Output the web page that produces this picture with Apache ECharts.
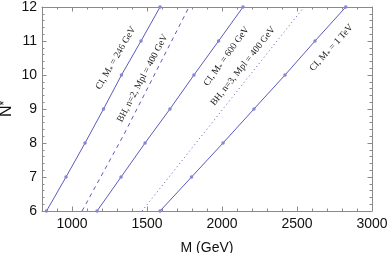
<!DOCTYPE html>
<html><head><meta charset="utf-8">
<script src="https://cdn.jsdelivr.net/npm/echarts@6/dist/echarts.min.js"></script>
<style>html,body{margin:0;padding:0;background:#fff}#c{width:390px;height:253px}</style>
</head><body><div id="c"></div>
<script>
// ---- data ----
const nLevels = [6, 7, 8, 9, 10, 11, 12];
const ci246M  = [830, 960, 1087, 1210, 1330, 1460, 1587];
const ci600M  = [1167, 1327, 1487, 1653, 1813, 1977, 2140];
const ci1tevM = [1587, 1797, 2007, 2213, 2420, 2620, 2825];
const bh2N = [6, 8.24, 12];
const bh2M = [1067, 1345, 1780];
const bh3N = [6, 9.26, 12];
const bh3M = [1467, 2053, 2547];
const xMajorTicks = [1000, 1500, 2000, 2500, 3000];
const yTicks = [6, 7, 8, 9, 10, 11, 12];

// curve labels: text, anchor in data coords [M, N], rotation (deg)
const curveLabels = [
  { t: 'CI, M{s|*} = 246 GeV', at: [1292, 10.5], rot: 60 },
  { t: 'BH, n=2, Mpl = 400 GeV', at: [1470, 9.9], rot: 62 },
  { t: 'CI, M{s|*} = 600 GeV', at: [2030, 10.55], rot: 54 },
  { t: 'BH, n=3, Mpl = 400 GeV', at: [2140, 10.26], rot: 51.5 },
  { t: 'CI, M{s|*} = 1 TeV', at: [2730, 10.8], rot: 47.5 }
];

const LINE = '#5a5abf';
const FRAME = '#8a8a8a';
const pair = (xs, ys) => xs.map((x, i) => [x, ys[i]]);

const chart = echarts.init(document.getElementById('c'), null, { renderer: 'canvas' });

const minorX = (pos) => ({
  type: 'value', position: pos, min: 800, max: 3000, interval: 100,
  axisLine: { show: true, lineStyle: { color: FRAME, width: 1 } },
  axisTick: { show: true, inside: true, length: 2.5, lineStyle: { color: FRAME } },
  axisLabel: { show: false }, splitLine: { show: false }
});
const majorX = (pos, labels) => ({
  type: 'value', position: pos, min: 800, max: 3000,
  axisLine: { show: false },
  axisTick: { show: true, inside: true, length: 4.5, customValues: xMajorTicks, lineStyle: { color: FRAME } },
  axisLabel: { show: labels, customValues: xMajorTicks, fontSize: 14, margin: 6, color: '#111',
    fontFamily: 'Liberation Sans', formatter: v => String(v) },
  splitLine: { show: false },
  name: labels ? 'M (GeV)' : '', nameLocation: 'middle', nameGap: 30, nameMoveOverlap: false,
  nameTextStyle: { fontSize: 14, color: '#111', fontFamily: 'Liberation Sans' }
});
const yAx = (pos, labels) => ({
  type: 'value', position: pos, min: 6, max: 12, interval: 1,
  axisLine: { show: true, lineStyle: { color: FRAME, width: 1 } },
  axisTick: { show: true, inside: true, length: 4.5, lineStyle: { color: FRAME } },
  minorTick: { show: true, splitNumber: 5, length: 2.5, lineStyle: { color: FRAME } },
  axisLabel: { show: labels, fontSize: 14, margin: 5, color: '#111', fontFamily: 'Liberation Sans' },
  splitLine: { show: false }, minorSplitLine: { show: false },
  name: labels ? 'N{sup|*}' : '', nameLocation: 'middle', nameGap: 27, nameRotate: 90, nameMoveOverlap: false,
  nameTextStyle: { fontSize: 16, color: '#111', fontFamily: 'Liberation Sans',
    rich: { sup: { fontSize: 12, verticalAlign: 'top', color: '#111', fontFamily: 'Liberation Sans' } } }
});

const ciSeries = (name, ms) => ({
  name, type: 'line', xAxisIndex: 0, yAxisIndex: 0,
  data: pair(ms, nLevels), symbol: 'circle', symbolSize: 3.5, showSymbol: true,
  lineStyle: { color: LINE, width: 1 },
  itemStyle: { color: '#8686d2', borderWidth: 0 },
  clip: true, silent: true, animation: false
});

chart.setOption({
  animation: false,
  grid: { left: 42, right: 18, top: 7, bottom: 42, containLabel: false, outerBoundsMode: 'none' },
  xAxis: [minorX('bottom'), majorX('bottom', true), minorX('top'), majorX('top', false)],
  yAxis: [yAx('left', true), yAx('right', false)],
  series: [
    ciSeries('CI 246', ci246M),
    ciSeries('CI 600', ci600M),
    ciSeries('CI 1TeV', ci1tevM),
    { name: 'BH2', type: 'line', data: pair(bh2M, bh2N), showSymbol: false, symbol: 'none',
      lineStyle: { color: LINE, width: 1, type: [4, 4] }, clip: true, animation: false },
    { name: 'BH3', type: 'line', data: pair(bh3M, bh3N), showSymbol: false, symbol: 'none',
      lineStyle: { color: LINE, width: 1, type: [1, 3] }, clip: true, animation: false }
  ]
});

const graphics = curveLabels.map(l => {
  const p = chart.convertToPixel({ xAxisIndex: 0, yAxisIndex: 0 }, l.at);
  return {
    type: 'text', x: p[0], y: p[1], rotation: l.rot * Math.PI / 180,
    style: {
      text: l.t, fontSize: 9.5, fontFamily: 'Liberation Serif', fill: '#222',
      align: 'center', verticalAlign: 'middle', lineHeight: 12,
      rich: { s: { fontSize: 7, fontFamily: 'Liberation Serif', fill: '#222', verticalAlign: 'bottom', lineHeight: 12, padding: [5, 0, 0, 0] } }
    },
    silent: true
  };
});
chart.setOption({ graphic: graphics });
</script>
</body></html>
